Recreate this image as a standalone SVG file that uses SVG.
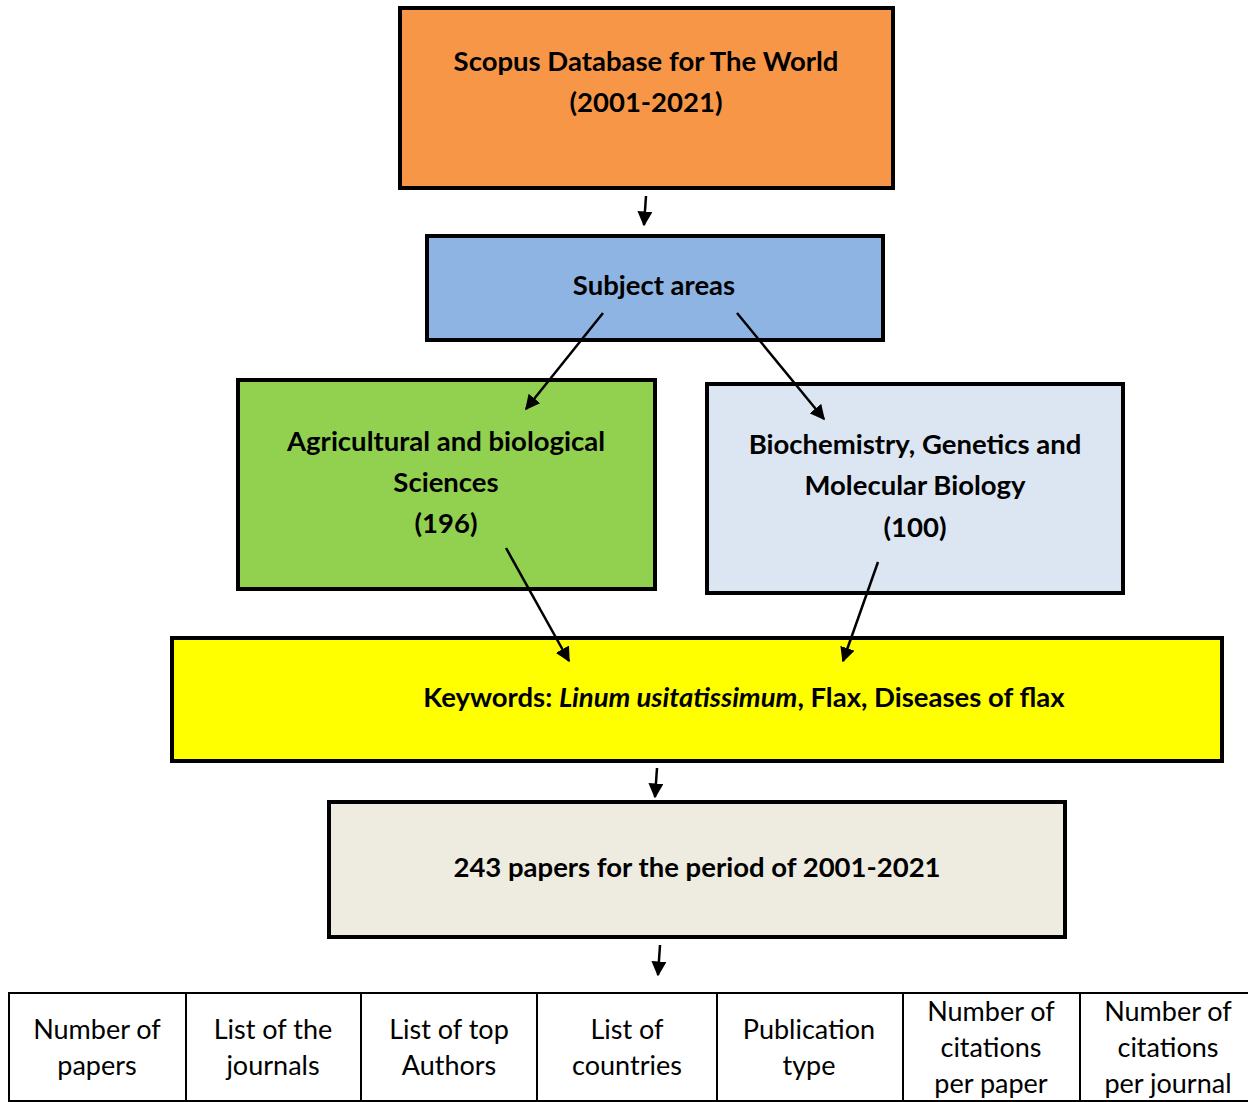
<svg xmlns="http://www.w3.org/2000/svg" width="1248" height="1102" viewBox="0 0 1248 1102">
<defs>
<marker id="ah" viewBox="0 0 10 10" refX="9" refY="5" markerWidth="6" markerHeight="6" markerUnits="strokeWidth" orient="auto">
<path d="M0,0 L10,5 L0,10 Z" fill="#000"/>
</marker>
<style>
.box{stroke:#000;stroke-width:4}
.b{font-family:Lato,"Liberation Sans",sans-serif;font-weight:bold;font-size:27.5px;fill:#000;text-anchor:middle}
.t{font-family:Lato,"Liberation Sans",sans-serif;font-size:27px;fill:#000;text-anchor:middle}
.c{stroke:#000;stroke-width:2.5;fill:none;marker-end:url(#ah)}
.cell{fill:#fff;stroke:#000;stroke-width:2}
</style>
</defs>
<rect width="1248" height="1102" fill="#fff"/>
<g id="scopus">
<rect class="box" x="400" y="8" width="493" height="180" fill="#F79646"/>
<text class="b" x="646" y="71">Scopus Database for The World</text>
<text class="b" x="646" y="112">(2001-2021)</text>
</g>
<g id="subject">
<rect class="box" x="427" y="236" width="456" height="104" fill="#8EB4E3"/>
<text class="b" x="654" y="295">Subject areas</text>
</g>
<g id="agri">
<rect class="box" x="238" y="380" width="417" height="209" fill="#92D050"/>
<text class="b" x="446" y="451">Agricultural and biological</text>
<text class="b" x="446" y="492">Sciences</text>
<text class="b" x="446" y="533">(196)</text>
</g>
<g id="biochem">
<rect class="box" x="707" y="384" width="416" height="209" fill="#DCE6F2"/>
<text class="b" x="915" y="454">Biochemistry, Genetics and</text>
<text class="b" x="915" y="495">Molecular Biology</text>
<text class="b" x="915" y="537">(100)</text>
</g>
<g id="keywords">
<rect class="box" x="172" y="638" width="1050" height="123" fill="#FFFF00"/>
<text class="b" x="744" y="707">Keywords: <tspan font-style="italic">Linum usitatissimum</tspan>, Flax, Diseases of flax</text>
</g>
<g id="papers">
<rect class="box" x="329" y="802" width="736" height="135" fill="#EEECE1"/>
<text class="b" x="697" y="877">243 papers for the period of 2001-2021</text>
</g>
<g id="table">
<rect class="cell" x="9" y="993" width="1250" height="108"/>
<line x1="186" y1="993" x2="186" y2="1101" stroke="#000" stroke-width="2"/>
<line x1="361" y1="993" x2="361" y2="1101" stroke="#000" stroke-width="2"/>
<line x1="537" y1="993" x2="537" y2="1101" stroke="#000" stroke-width="2"/>
<line x1="717" y1="993" x2="717" y2="1101" stroke="#000" stroke-width="2"/>
<line x1="903" y1="993" x2="903" y2="1101" stroke="#000" stroke-width="2"/>
<line x1="1080" y1="993" x2="1080" y2="1101" stroke="#000" stroke-width="2"/>
<text class="t" x="97" y="1039">Number of</text>
<text class="t" x="97" y="1075">papers</text>
<text class="t" x="273" y="1039">List of the</text>
<text class="t" x="273" y="1075">journals</text>
<text class="t" x="449" y="1039">List of top</text>
<text class="t" x="449" y="1075">Authors</text>
<text class="t" x="627" y="1039">List of</text>
<text class="t" x="627" y="1075">countries</text>
<text class="t" x="809" y="1039">Publication</text>
<text class="t" x="809" y="1075">type</text>
<text class="t" x="991" y="1021">Number of</text>
<text class="t" x="991" y="1057">citations</text>
<text class="t" x="991" y="1093">per paper</text>
<text class="t" x="1168" y="1021">Number of</text>
<text class="t" x="1168" y="1057">citations</text>
<text class="t" x="1168" y="1093">per journal</text>
</g>
<g id="connectors">
<line class="c" x1="646" y1="196" x2="644" y2="225"/>
<line class="c" x1="603" y1="313" x2="526" y2="409"/>
<line class="c" x1="737" y1="313" x2="824" y2="419"/>
<line class="c" x1="506" y1="548" x2="569" y2="661"/>
<line class="c" x1="878" y1="562" x2="843" y2="661"/>
<line class="c" x1="657" y1="768" x2="655" y2="797"/>
<line class="c" x1="660" y1="945" x2="658" y2="975"/>
</g>
</svg>
